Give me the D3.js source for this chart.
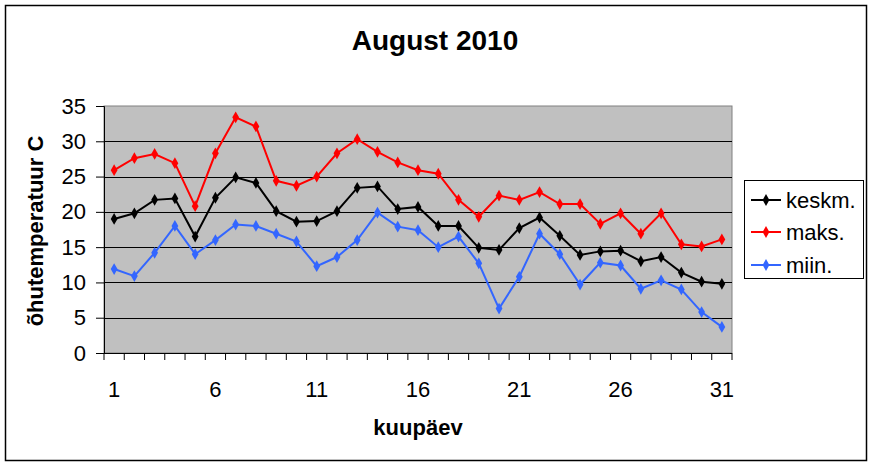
<!DOCTYPE html>
<html>
<head>
<meta charset="utf-8">
<script src="https://cdn.jsdelivr.net/npm/d3@7"></script>
<style>
  body { margin: 0; background: #fff; }
  svg { display: block; font-family: Arial, "Liberation Sans", sans-serif; }
</style>
</head>
<body>
<script>
var w = 873;
var h = 465;

// day of month
var days = d3.range(1, 32);
var dayLabels = [1, 6, 11, 16, 21, 26, 31];
var yTicks = [0, 5, 10, 15, 20, 25, 30, 35];

var keskm = [19.0, 19.8, 21.7, 21.9, 16.5, 22.0, 24.9, 24.1, 20.1, 18.6, 18.7,
  20.1, 23.4, 23.6, 20.4, 20.7, 18.0, 18.0, 14.9, 14.6, 17.7,
  19.2, 16.6, 13.9, 14.4, 14.5, 13.0, 13.6, 11.4, 10.1, 9.8];
var maks = [25.9, 27.6, 28.2, 26.9, 20.8, 28.3, 33.4, 32.1, 24.4, 23.7, 25.0,
  28.3, 30.3, 28.5, 27.0, 25.9, 25.4, 21.7, 19.3, 22.3, 21.7,
  22.8, 21.1, 21.1, 18.3, 19.8, 16.9, 19.8, 15.4, 15.1, 16.1];
var miin = [11.9, 10.9, 14.2, 18.0, 14.0, 16.0, 18.2, 18.0, 16.9, 15.8, 12.3,
  13.6, 16.0, 19.9, 17.9, 17.4, 15.0, 16.5, 12.7, 6.3, 10.8,
  16.9, 14.0, 9.7, 12.8, 12.4, 9.1, 10.3, 9.0, 5.8, 3.7];

var series = [
  {name: 'keskm.', values: keskm, color: '#000000'},
  {name: 'maks.', values: maks, color: '#ff0000'},
  {name: 'miin.', values: miin, color: '#3366ff'}
];

var plot = {left: 104, top: 106, right: 732, bottom: 353};

var x = d3.scaleBand()
  .domain(days)
  .range([plot.left, plot.right]);

var y = d3.scaleLinear()
  .domain([0, 35])
  .range([plot.bottom, plot.top]);

var svg = d3.select('body').append('svg')
  .attr('width', w)
  .attr('height', h);

// outer chart border
svg.append('rect')
  .attr('x', 5.5).attr('y', 5.5)
  .attr('width', 861).attr('height', 455)
  .attr('fill', '#fff')
  .attr('stroke', '#000')
  .attr('stroke-width', 1.5);

// plot area
svg.append('rect')
  .attr('x', plot.left).attr('y', plot.top)
  .attr('width', plot.right - plot.left)
  .attr('height', plot.bottom - plot.top)
  .attr('fill', '#c0c0c0')
  .attr('stroke', '#808080')
  .attr('stroke-width', 1);

// grid lines
svg.append('g')
  .selectAll('line')
  .data(yTicks.filter(function(d) { return d > 0 && d < 35; }))
  .enter().append('line')
  .attr('x1', plot.left).attr('x2', plot.right)
  .attr('y1', function(d) { return Math.round(y(d)) + 0.5; })
  .attr('y2', function(d) { return Math.round(y(d)) + 0.5; })
  .attr('stroke', '#000')
  .attr('stroke-width', 1);

// y axis
var yAxis = svg.append('g')
  .attr('transform', 'translate(' + plot.left + ',0)')
  .call(d3.axisLeft(y).tickValues(yTicks).tickSize(8).tickPadding(10));
yAxis.select('.domain').attr('stroke', '#000');
yAxis.selectAll('text')
  .attr('font-size', 22)
  .attr('font-family', 'Arial, "Liberation Sans", sans-serif')
  .attr('fill', '#000');

// x axis: ticks between categories
var xAxisG = svg.append('g');
xAxisG.append('line')
  .attr('x1', plot.left).attr('x2', plot.right)
  .attr('y1', plot.bottom + 0.5).attr('y2', plot.bottom + 0.5)
  .attr('stroke', '#000');
xAxisG.selectAll('line.tick')
  .data(days.concat([32]))
  .enter().append('line')
  .attr('class', 'tick')
  .attr('x1', function(d) { return d === 32 ? plot.right : x(d); })
  .attr('x2', function(d) { return d === 32 ? plot.right : x(d); })
  .attr('y1', plot.bottom)
  .attr('y2', plot.bottom + 7)
  .attr('stroke', '#000');
xAxisG.selectAll('text')
  .data(dayLabels)
  .enter().append('text')
  .attr('x', function(d) { return x(d) + x.bandwidth() / 2; })
  .attr('y', 397)
  .attr('text-anchor', 'middle')
  .attr('font-size', 22)
  .text(function(d) { return d; });

// lines and markers
var line = d3.line()
  .x(function(d, i) { return x(days[i]) + x.bandwidth() / 2; })
  .y(function(d) { return y(d); });

var diamond = d3.symbol().type(d3.symbolDiamond).size(40);

series.forEach(function(s) {
  var g = svg.append('g');
  g.append('path')
    .attr('d', line(s.values))
    .attr('fill', 'none')
    .attr('stroke', s.color)
    .attr('stroke-width', 2);
  g.selectAll('path.pt')
    .data(s.values)
    .enter().append('path')
    .attr('class', 'pt')
    .attr('d', diamond)
    .attr('transform', function(d, i) {
      return 'translate(' + (x(days[i]) + x.bandwidth() / 2) + ',' + y(d) + ')';
    })
    .attr('fill', s.color);
});

// title
svg.append('text')
  .attr('x', 435)
  .attr('y', 50)
  .attr('text-anchor', 'middle')
  .attr('font-size', 28)
  .attr('font-weight', 'bold')
  .text('August 2010');

// axis titles
svg.append('text')
  .attr('x', (plot.left + plot.right) / 2)
  .attr('y', 435)
  .attr('text-anchor', 'middle')
  .attr('font-size', 22)
  .attr('font-weight', 'bold')
  .text('kuupäev');

svg.append('text')
  .attr('transform', 'translate(43,231) rotate(-90)')
  .attr('text-anchor', 'middle')
  .attr('font-size', 22)
  .attr('font-weight', 'bold')
  .text('õhutemperatuur C');

// legend
var legend = svg.append('g');
legend.append('rect')
  .attr('x', 744.5).attr('y', 180.5)
  .attr('width', 119).attr('height', 98)
  .attr('fill', '#fff')
  .attr('stroke', '#000');

var rowY = [200, 232, 265];
series.forEach(function(s, i) {
  var ly = rowY[i];
  legend.append('line')
    .attr('x1', 751).attr('x2', 781)
    .attr('y1', ly).attr('y2', ly)
    .attr('stroke', s.color)
    .attr('stroke-width', 2);
  legend.append('path')
    .attr('d', diamond)
    .attr('transform', 'translate(766,' + ly + ')')
    .attr('fill', s.color);
  legend.append('text')
    .attr('x', 786)
    .attr('y', ly + 8)
    .attr('font-size', 22)
    .text(s.name);
});
</script>
</body>
</html>
